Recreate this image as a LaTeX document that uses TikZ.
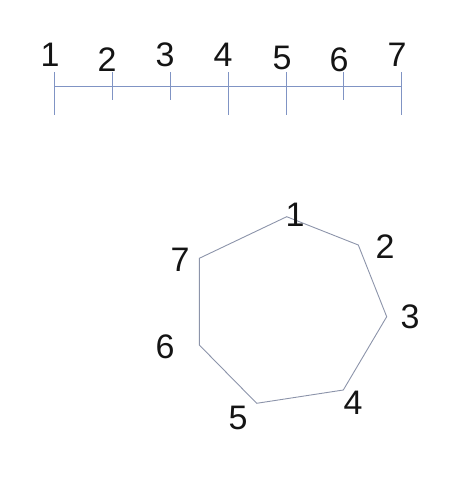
\documentclass[tikz,border=0pt]{standalone}
\usepackage{fontspec}
\setmainfont{Liberation Sans}
\definecolor{axiscol}{RGB}{128,148,196}
\definecolor{polycol}{RGB}{140,148,170}
\begin{document}
\begin{tikzpicture}[x=1pt,y=-1pt,
  lbl/.style={inner sep=0pt,font=\fontsize{34}{34}\selectfont,text=black!92},
  axis/.style={draw=axiscol,line width=0.9pt},
  poly/.style={draw=polycol,line width=0.9pt}]
\useasboundingbox (0,0) rectangle (473,477);
% top scale
\coordinate (a) at (54,86.5);
\coordinate (b) at (401,86.5);
\draw[axis] (a) -- (b);
\foreach \x/\l in {54/115,112/100,170/100,228/115,286/115,343/100,401/115}{
  \coordinate (t\x) at (\x,72); \coordinate (u\x) at (\x,\l);
  \draw[axis] (t\x) -- (u\x);
}
\node[lbl] (n1) at (50,55) {1};
\node[lbl] (n2) at (107,60) {2};
\node[lbl] (n3) at (165,55) {3};
\node[lbl] (n4) at (223,55) {4};
\node[lbl] (n5) at (282,58) {5};
\node[lbl] (n6) at (339,60) {6};
\node[lbl] (n7) at (397,55) {7};
% heptagon
\coordinate (v1) at (286.7,216.7);
\coordinate (v2) at (358.3,245);
\coordinate (v3) at (386.7,316.7);
\coordinate (v4) at (343.3,390);
\coordinate (v5) at (256.7,403.3);
\coordinate (v6) at (199.3,345);
\coordinate (v7) at (199.3,258.3);
\draw[poly] (v1) -- (v2) -- (v3) -- (v4) -- (v5) -- (v6) -- (v7) -- cycle;
\node[lbl] (h1) at (295,215) {1};
\node[lbl] (h2) at (385,246.7) {2};
\node[lbl] (h3) at (410,316.7) {3};
\node[lbl] (h4) at (353,403) {4};
\node[lbl] (h5) at (238,418) {5};
\node[lbl] (h6) at (165,346.7) {6};
\node[lbl] (h7) at (180,260) {7};
\end{tikzpicture}
\end{document}
